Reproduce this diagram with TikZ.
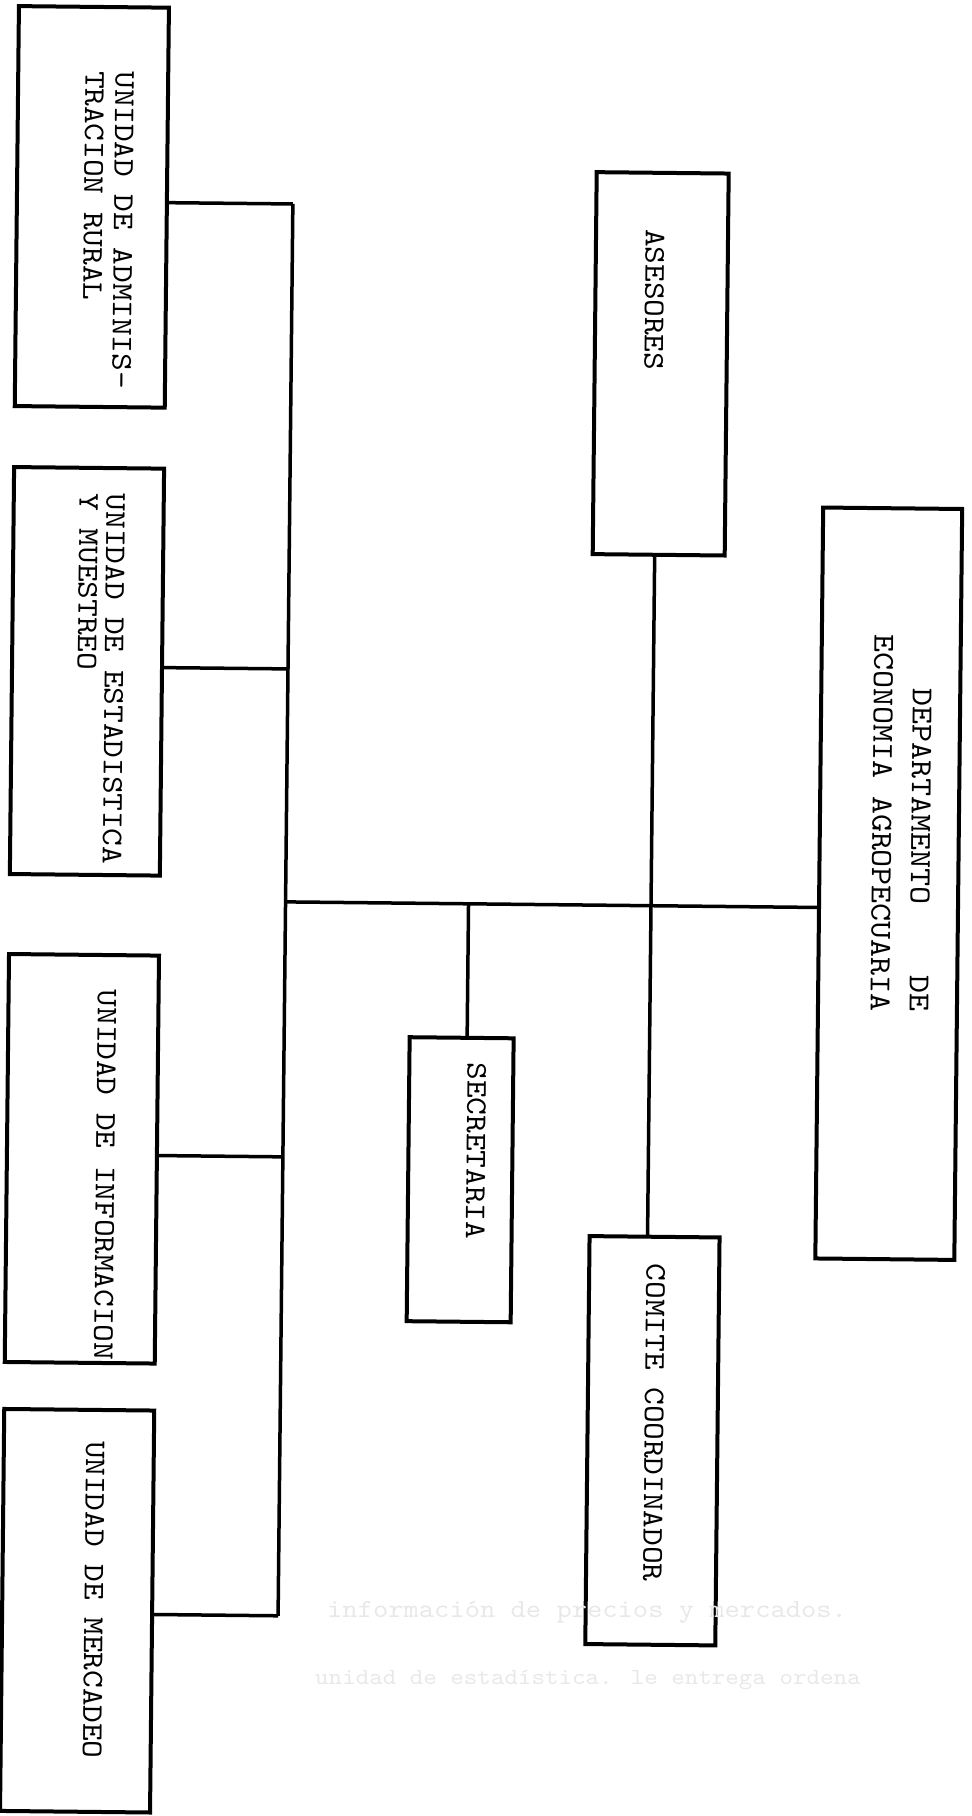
\documentclass[tikz,border=0pt]{standalone}
\usepackage{fontspec}
\newfontfamily\tw{lmmono10-regular}[Extension=.otf, FakeStretch=1.12]
\begin{document}
\begin{tikzpicture}[x=1pt,y=-1pt,
  box/.style={draw, line width=4pt, inner sep=0pt, outer sep=0pt},
  lbl/.style={font=\tw\fontsize{30}{30}\selectfont, rotate=-90, inner sep=0pt, align=left},
  wire/.style={line width=3.5pt},
  ghost/.style={text=black!9, inner sep=0pt, anchor=base west}]
\useasboundingbox (0,0) rectangle (972,1816);
\begin{scope}[rotate around={-0.6:(486,908)}, transform shape]
  % boxes
  \node[box, minimum width=150pt, minimum height=400pt] (b1) at (84.5,211) {};
  \node[box, minimum width=150pt, minimum height=407pt] (b2) at (84.5,675.5) {};
  \node[box, minimum width=150pt, minimum height=408pt] (b3) at (84.5,1163) {};
  \node[box, minimum width=150pt, minimum height=402pt] (b4) at (84.5,1615) {};
  \node[box, minimum width=132pt, minimum height=382pt] (ases) at (655,362) {};
  \node[box, minimum width=130pt, minimum height=408pt] (com) at (658,1439) {};
  \node[box, minimum width=104pt, minimum height=284pt] (sec) at (463,1180) {};
  \node[box, minimum width=139pt, minimum height=751pt] (dept) at (888.5,879.5) {};
  % texts
  \node[lbl, font=\tw\fontsize{30}{30}\selectfont] (t1) at (101,234) {UNIDAD DE ADMINIS-\\TRACION RURAL};
  \node[lbl, font=\tw\fontsize{30}{27}\selectfont] (t2) at (98,683) {UNIDAD DE ESTADISTICA\\Y MUESTREO};
  \node[lbl] (t3) at (108,1179) {UNIDAD DE INFORMACION};
  \node[lbl] (t4) at (101,1604) {UNIDAD DE MERCADEO};
  \node[lbl] (ta) at (648,298) {ASESORES};
  \node[lbl] (ts) at (478.5,1151) {SECRETARIA};
  \node[lbl] (tc) at (659.4,1421) {COMITE COORDINADOR};
  \node[lbl, align=right, font=\tw\fontsize{30.5}{39}\selectfont] (td) at (900.5,819)
     {DEPARTAMENTO\hphantom{XXXX}DE\\ECONOMIA AGROPECUARIA};
  % connector points
  \coordinate (v1) at (285.5,206);
  \coordinate (v2) at (285.5,671);
  \coordinate (v3) at (285.5,1159);
  \coordinate (v4) at (285.5,1618);
  \coordinate (vm) at (285.5,904);
  \coordinate (hs) at (468.5,904);
  % connectors
  \draw[wire] (v1) -- (v4);
  \draw[wire] ([yshift=5pt]b1.east) -- (v1);
  \draw[wire] ([yshift=4.5pt]b2.east) -- (v2);
  \draw[wire] ([yshift=4pt]b3.east) -- (v3);
  \draw[wire] ([yshift=-3pt]b4.east) -- (v4);
  \draw[wire] (vm) -- ([yshift=-24.5pt]dept.west);
  \draw[wire] ([xshift=5.5pt]sec.north) -- (hs);
  \draw[wire] ([xshift=-4pt]ases.south) -- ([xshift=-7pt]com.north);
\end{scope}
\node[ghost, font=\tw\fontsize{26}{26}\selectfont] (g1) at (327,1617) {información de precios y mercados.};
\node[ghost, font=\tw\fontsize{23}{23}\selectfont] (g2) at (315,1684) {unidad de estadística. le entrega ordena};
\end{tikzpicture}
\end{document}
